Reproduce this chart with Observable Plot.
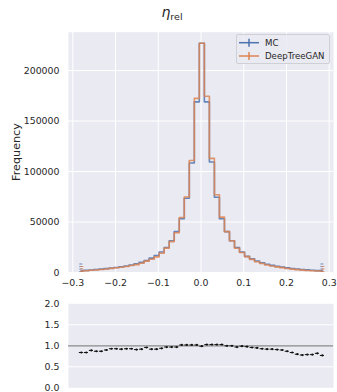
<!DOCTYPE html>
<html><head><meta charset="utf-8">
<script src="https://cdn.jsdelivr.net/npm/d3@7"></script>
<script src="https://cdn.jsdelivr.net/npm/@observablehq/plot@0.6"></script>
<style>
body{margin:0;background:#fff;font-family:"DejaVu Sans",sans-serif;color:#262626}
#wrap{position:relative;width:337px;height:392px;overflow:hidden;background:#fff}
#wrap svg{position:absolute;left:0;overflow:visible}
#title{position:absolute;left:0;top:4px;width:337px;text-align:center;padding-left:7px;box-sizing:border-box;font-size:13px}
#title i{font-style:italic;font-size:14px}
#title sub{font-size:9.5px;vertical-align:-3px}
#ylab{position:absolute;left:15.5px;top:152px;transform:translate(-50%,-50%) rotate(-90deg);font-size:11.2px;white-space:nowrap}
#legend{position:absolute;left:236px;top:34px;width:94px;height:30px;background:rgba(234,234,242,0.85);border:1px solid #cfcfd6;border-radius:2px;box-sizing:border-box;font-size:8.6px}
#legend svg{position:absolute;left:0;top:0}
#legend span{position:absolute;left:28px;line-height:10px}
</style></head><body>
<div id="wrap">
  <div id="title"><i>η</i><sub>rel</sub></div>
  <div id="ylab">Frequency</div>
</div>
<script>
const binCenters = [-0.28,-0.26825,-0.2565,-0.24475,-0.233,-0.22125,-0.2095,-0.19775,-0.186,-0.17425,-0.1625,-0.15075,-0.139,-0.12725,-0.1155,-0.10375,-0.092,-0.08025,-0.0685,-0.05675,-0.045,-0.03325,-0.0215,-0.00975,0.002,0.01375,0.0255,0.03725,0.049,0.06075,0.0725,0.08425,0.096,0.10775,0.1195,0.13125,0.143,0.15475,0.1665,0.17825,0.19,0.20175,0.2135,0.22525,0.237,0.24875,0.2605,0.27225,0.284];
const mcCounts = [1800,2100,2500,2900,3300,3800,4400,5000,5700,6500,7500,8600,10000,11800,14200,16800,20300,24800,31500,40500,53200,73500,108500,169000,227000,169000,109500,74500,53200,40500,31500,24800,20200,16000,13500,11300,9600,8200,7100,6100,5300,4600,4000,3500,3000,2600,2200,1900,1600];
const ganCounts = [1500,1750,2200,2500,2900,3400,4100,4650,5250,6000,7000,7800,9200,11300,13100,15500,19100,24100,30600,39300,54500,74800,110900,172500,227000,174500,113000,77000,54800,40500,31500,24000,19800,15700,13000,10700,8900,7500,6500,5600,4800,4000,3350,2800,2350,2050,1750,1550,1250];
const ratioValues = [0.84,0.84,0.89,0.87,0.87,0.90,0.93,0.93,0.92,0.93,0.93,0.91,0.92,0.96,0.92,0.92,0.94,0.97,0.97,0.97,1.02,1.02,1.02,1.02,0.99,1.03,1.03,1.03,1.03,1.0,1.0,0.97,0.99,0.98,0.96,0.95,0.93,0.92,0.92,0.91,0.90,0.87,0.84,0.80,0.78,0.79,0.79,0.82,0.77];
const edgeHeightsMC = [10000, 9300];
const edgeHeightsGAN = [6500, 7000];
const xTicks = [-0.3,-0.2,-0.1,0.0,0.1,0.2,0.3];
const yTicks = [0,50000,100000,150000,200000];
const ratioTicks = [0,0.5,1.0,1.5,2.0];
const seriesNames = ["MC","DeepTreeGAN"];

const BLUE = "#4c72b0", ORANGE = "#dd8452", PANEL = "#eaeaf2";
const mcData = binCenters.map((x,i)=>({x, y: mcCounts[i]}));
const ganData = binCenters.map((x,i)=>({x, y: ganCounts[i]}));
const ratioData = binCenters.map((x,i)=>({x, y: ratioValues[i]}));
const edgeX = [binCenters[0], binCenters[binCenters.length-1]];
const edgeMC = edgeX.map((x,i)=>({x, y: edgeHeightsMC[i]}));
const edgeGAN = edgeX.map((x,i)=>({x, y: edgeHeightsGAN[i]}));
const halfW = (binCenters[1]-binCenters[0])*0.4;
const fmt1 = d3.format(".1f");
const xDomain = [-0.31, 0.31];
const plotStyle = {fontFamily:"DejaVu Sans", fontSize:"9.4px", color:"#262626", background:"transparent"};

const mainChart = Plot.plot({
  width: 337, height: 295,
  marginLeft: 68, marginRight: 4, marginTop: 31.7, marginBottom: 23,
  style: plotStyle,
  x: {domain: xDomain},
  y: {domain: [0, 238000]},
  marks: [
    Plot.frame({fill: PANEL, stroke: null}),
    Plot.gridX(xTicks, {stroke: "white", strokeOpacity: 1, strokeWidth: 1}),
    Plot.gridY(yTicks, {stroke: "white", strokeOpacity: 1, strokeWidth: 1}),
    Plot.axisX(xTicks, {tickSize: 0, tickPadding: 7, tickFormat: fmt1, label: null}),
    Plot.axisY(yTicks, {tickSize: 0, tickPadding: 9, tickFormat: d3.format("d"), label: null}),
    Plot.ruleX(edgeMC, {x: "x", y1: 0, y2: "y", stroke: BLUE, strokeWidth: 3, strokeDasharray: "1,1.5", strokeOpacity: 0.8, dx: -0.5}),
    Plot.ruleX(edgeGAN, {x: "x", y1: 0, y2: "y", stroke: ORANGE, strokeWidth: 3, strokeDasharray: "1,1.5", strokeOpacity: 0.8, dx: 0.5}),
    Plot.line(mcData, {x: "x", y: "y", curve: "step", stroke: BLUE, strokeWidth: 1.6, strokeOpacity: 0.85}),
    Plot.line(ganData, {x: "x", y: "y", curve: "step", stroke: ORANGE, strokeWidth: 1.6, strokeOpacity: 0.85})
  ]
});
mainChart.style.top = "0px";

const ratioChart = Plot.plot({
  width: 337, height: 97,
  marginLeft: 68, marginRight: 4, marginTop: 8.3, marginBottom: 4.7,
  style: plotStyle,
  x: {domain: xDomain, axis: null},
  y: {domain: [0, 2]},
  marks: [
    Plot.frame({fill: PANEL, stroke: null}),
    Plot.gridY([0.5, 1.5], {stroke: "white", strokeOpacity: 1, strokeWidth: 1}),
    Plot.axisY(ratioTicks, {tickSize: 0, tickPadding: 9, tickFormat: fmt1, label: null}),
    Plot.ruleY([1], {stroke: "#8a8a8a", strokeWidth: 1.3}),
    Plot.ruleY(ratioData, {x1: d => d.x - halfW, x2: d => d.x + halfW, y: "y", stroke: "#111", strokeWidth: 1}),
    Plot.dot(ratioData, {x: "x", y: "y", r: 1.1, fill: "#111", stroke: null})
  ]
});
ratioChart.style.top = "295px";

const wrap = document.getElementById("wrap");
wrap.appendChild(mainChart);
wrap.appendChild(ratioChart);

// legend
const leg = document.createElement("div");
leg.id = "legend";
const ns = "http://www.w3.org/2000/svg";
const lsvg = document.createElementNS(ns, "svg");
lsvg.setAttribute("width", 30); lsvg.setAttribute("height", 30);
[BLUE, ORANGE].forEach((c, i) => {
  const cy = 7.7 + i * 13.3;
  const h = document.createElementNS(ns, "line");
  h.setAttribute("x1", 2); h.setAttribute("x2", 22); h.setAttribute("y1", cy); h.setAttribute("y2", cy);
  h.setAttribute("stroke", c); h.setAttribute("stroke-width", 1.5);
  const v = document.createElementNS(ns, "line");
  v.setAttribute("x1", 12); v.setAttribute("x2", 12); v.setAttribute("y1", cy - 4); v.setAttribute("y2", cy + 4);
  v.setAttribute("stroke", c); v.setAttribute("stroke-width", 1.5);
  lsvg.appendChild(h); lsvg.appendChild(v);
  const s = document.createElement("span");
  s.textContent = seriesNames[i];
  s.style.top = (cy - 5) + "px";
  leg.appendChild(s);
});
leg.appendChild(lsvg);
wrap.appendChild(leg);
</script>
</body></html>
